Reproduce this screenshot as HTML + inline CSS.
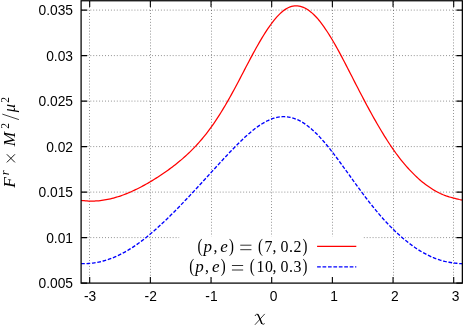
<!DOCTYPE html>
<html><head><meta charset="utf-8"><title>plot</title>
<style>html,body{margin:0;padding:0;background:#fff;}body{width:463px;height:326px;position:relative;overflow:hidden;font-family:"Liberation Sans",sans-serif;}</style>
</head><body>
<svg width="463" height="326" viewBox="0 0 463 326" style="position:absolute;left:0;top:0;will-change:transform;opacity:0.999">
<rect x="0" y="0" width="463" height="326" fill="#fff"/>
<path d="M89.50,1.3 V283.1 M150.50,1.3 V283.1 M211.50,1.3 V283.1 M271.50,1.3 V283.1 M332.50,1.3 V283.1 M393.50,1.3 V283.1 M453.50,1.3 V283.1 M81.55,237.60 H462.35 M81.55,192.10 H462.35 M81.55,146.60 H462.35 M81.55,101.10 H462.35 M81.55,55.60 H462.35 M81.55,10.10 H462.35" fill="none" stroke="#000" stroke-opacity="0.47" stroke-width="1.0" stroke-dasharray="0.9 2.04"/>
<rect x="179.3" y="236.3" width="184" height="41.5" fill="#fff"/>
<path d="M81.10,200.34 L82.57,200.54 L84.04,200.71 L85.52,200.85 L86.99,200.96 L88.46,201.04 L89.93,201.08 L91.40,201.10 L92.88,201.09 L94.35,201.05 L95.82,200.98 L97.29,200.88 L98.76,200.76 L100.24,200.61 L101.71,200.43 L103.18,200.22 L104.65,199.99 L106.12,199.73 L107.60,199.45 L109.07,199.14 L110.54,198.80 L112.01,198.44 L113.48,198.06 L114.96,197.65 L116.43,197.22 L117.90,196.77 L119.37,196.29 L120.84,195.80 L122.32,195.28 L123.79,194.73 L125.26,194.17 L126.73,193.59 L128.20,192.98 L129.68,192.36 L131.15,191.71 L132.62,191.05 L134.09,190.37 L135.56,189.67 L137.04,188.95 L138.51,188.22 L139.98,187.46 L141.45,186.69 L142.92,185.91 L144.40,185.10 L145.87,184.28 L147.34,183.45 L148.81,182.60 L150.28,181.74 L151.76,180.86 L153.23,179.96 L154.70,179.05 L156.17,178.13 L157.64,177.19 L159.12,176.23 L160.59,175.27 L162.06,174.28 L163.53,173.28 L165.00,172.27 L166.48,171.23 L167.95,170.18 L169.42,169.12 L170.89,168.03 L172.36,166.93 L173.84,165.81 L175.31,164.66 L176.78,163.50 L178.25,162.31 L179.72,161.10 L181.20,159.86 L182.67,158.60 L184.14,157.31 L185.61,156.00 L187.08,154.65 L188.56,153.27 L190.03,151.86 L191.50,150.41 L192.97,148.93 L194.44,147.42 L195.92,145.86 L197.39,144.26 L198.86,142.63 L200.33,140.95 L201.80,139.23 L203.28,137.46 L204.75,135.65 L206.22,133.79 L207.69,131.88 L209.16,129.93 L210.64,127.93 L212.11,125.87 L213.58,123.77 L215.05,121.62 L216.52,119.42 L218.00,117.17 L219.47,114.87 L220.94,112.52 L222.41,110.13 L223.88,107.69 L225.36,105.20 L226.83,102.68 L228.30,100.11 L229.77,97.50 L231.24,94.85 L232.72,92.17 L234.19,89.46 L235.66,86.72 L237.13,83.96 L238.60,81.17 L240.08,78.36 L241.55,75.54 L243.02,72.72 L244.49,69.89 L245.96,67.07 L247.44,64.25 L248.91,61.44 L250.38,58.66 L251.85,55.89 L253.32,53.16 L254.80,50.46 L256.27,47.80 L257.74,45.19 L259.21,42.62 L260.68,40.10 L262.16,37.64 L263.63,35.24 L265.10,32.91 L266.57,30.63 L268.04,28.43 L269.52,26.30 L270.99,24.24 L272.46,22.27 L273.93,20.39 L275.41,18.60 L276.88,16.90 L278.35,15.32 L279.82,13.84 L281.29,12.48 L282.77,11.23 L284.24,10.11 L285.71,9.11 L287.18,8.24 L288.65,7.50 L290.13,6.90 L291.60,6.43 L293.07,6.09 L294.54,5.88 L296.01,5.81 L297.49,5.87 L298.96,6.06 L300.43,6.37 L301.90,6.81 L303.37,7.36 L304.85,8.04 L306.32,8.83 L307.79,9.74 L309.26,10.76 L310.73,11.90 L312.21,13.14 L313.68,14.49 L315.15,15.96 L316.62,17.53 L318.09,19.21 L319.57,20.99 L321.04,22.87 L322.51,24.84 L323.98,26.89 L325.45,29.02 L326.93,31.23 L328.40,33.50 L329.87,35.85 L331.34,38.26 L332.81,40.73 L334.29,43.26 L335.76,45.84 L337.23,48.48 L338.70,51.16 L340.17,53.89 L341.65,56.66 L343.12,59.45 L344.59,62.27 L346.06,65.11 L347.53,67.97 L349.01,70.84 L350.48,73.71 L351.95,76.59 L353.42,79.47 L354.89,82.35 L356.37,85.22 L357.84,88.08 L359.31,90.93 L360.78,93.77 L362.25,96.58 L363.73,99.38 L365.20,102.16 L366.67,104.92 L368.14,107.66 L369.61,110.37 L371.09,113.05 L372.56,115.70 L374.03,118.33 L375.50,120.93 L376.97,123.49 L378.45,126.03 L379.92,128.53 L381.39,130.99 L382.86,133.43 L384.33,135.82 L385.81,138.18 L387.28,140.50 L388.75,142.78 L390.22,145.02 L391.69,147.22 L393.17,149.36 L394.64,151.46 L396.11,153.50 L397.58,155.49 L399.05,157.42 L400.53,159.31 L402.00,161.14 L403.47,162.92 L404.94,164.64 L406.41,166.33 L407.89,167.97 L409.36,169.57 L410.83,171.13 L412.30,172.65 L413.77,174.13 L415.25,175.58 L416.72,176.98 L418.19,178.35 L419.66,179.67 L421.13,180.94 L422.61,182.16 L424.08,183.34 L425.55,184.47 L427.02,185.55 L428.49,186.59 L429.97,187.59 L431.44,188.54 L432.91,189.46 L434.38,190.35 L435.85,191.19 L437.33,192.00 L438.80,192.76 L440.27,193.48 L441.74,194.15 L443.21,194.77 L444.69,195.35 L446.16,195.88 L447.63,196.37 L449.10,196.84 L450.57,197.27 L452.05,197.68 L453.52,198.07 L454.99,198.45 L456.46,198.81 L457.93,199.16 L459.41,199.49 L460.88,199.78 L462.35,200.05" fill="none" stroke="#ff0000" stroke-width="1.25" stroke-linejoin="round"/>
<path d="M81.10,263.66 L82.57,263.69 L84.04,263.69 L85.52,263.66 L86.99,263.60 L88.46,263.51 L89.93,263.39 L91.40,263.24 L92.88,263.07 L94.35,262.86 L95.82,262.63 L97.29,262.36 L98.76,262.07 L100.24,261.75 L101.71,261.39 L103.18,261.01 L104.65,260.60 L106.12,260.16 L107.60,259.69 L109.07,259.19 L110.54,258.66 L112.01,258.11 L113.48,257.52 L114.96,256.90 L116.43,256.26 L117.90,255.59 L119.37,254.89 L120.84,254.16 L122.32,253.40 L123.79,252.61 L125.26,251.80 L126.73,250.96 L128.20,250.09 L129.68,249.20 L131.15,248.28 L132.62,247.33 L134.09,246.35 L135.56,245.36 L137.04,244.33 L138.51,243.28 L139.98,242.21 L141.45,241.12 L142.92,240.00 L144.40,238.85 L145.87,237.69 L147.34,236.51 L148.81,235.30 L150.28,234.07 L151.76,232.83 L153.23,231.56 L154.70,230.28 L156.17,228.97 L157.64,227.65 L159.12,226.32 L160.59,224.96 L162.06,223.60 L163.53,222.21 L165.00,220.81 L166.48,219.40 L167.95,217.98 L169.42,216.54 L170.89,215.09 L172.36,213.63 L173.84,212.15 L175.31,210.67 L176.78,209.18 L178.25,207.67 L179.72,206.16 L181.20,204.64 L182.67,203.11 L184.14,201.58 L185.61,200.03 L187.08,198.48 L188.56,196.92 L190.03,195.36 L191.50,193.79 L192.97,192.21 L194.44,190.63 L195.92,189.05 L197.39,187.46 L198.86,185.86 L200.33,184.27 L201.80,182.67 L203.28,181.06 L204.75,179.46 L206.22,177.85 L207.69,176.24 L209.16,174.63 L210.64,173.01 L212.11,171.40 L213.58,169.79 L215.05,168.18 L216.52,166.57 L218.00,164.97 L219.47,163.36 L220.94,161.76 L222.41,160.17 L223.88,158.58 L225.36,157.00 L226.83,155.43 L228.30,153.86 L229.77,152.31 L231.24,150.76 L232.72,149.23 L234.19,147.71 L235.66,146.21 L237.13,144.73 L238.60,143.26 L240.08,141.81 L241.55,140.39 L243.02,138.99 L244.49,137.61 L245.96,136.26 L247.44,134.94 L248.91,133.65 L250.38,132.39 L251.85,131.16 L253.32,129.98 L254.80,128.83 L256.27,127.72 L257.74,126.65 L259.21,125.62 L260.68,124.65 L262.16,123.72 L263.63,122.84 L265.10,122.01 L266.57,121.23 L268.04,120.51 L269.52,119.85 L270.99,119.25 L272.46,118.70 L273.93,118.22 L275.41,117.80 L276.88,117.45 L278.35,117.16 L279.82,116.94 L281.29,116.78 L282.77,116.69 L284.24,116.68 L285.71,116.73 L287.18,116.86 L288.65,117.05 L290.13,117.32 L291.60,117.66 L293.07,118.07 L294.54,118.55 L296.01,119.10 L297.49,119.73 L298.96,120.42 L300.43,121.18 L301.90,122.01 L303.37,122.91 L304.85,123.88 L306.32,124.91 L307.79,126.01 L309.26,127.17 L310.73,128.39 L312.21,129.67 L313.68,131.00 L315.15,132.40 L316.62,133.84 L318.09,135.34 L319.57,136.89 L321.04,138.49 L322.51,140.13 L323.98,141.81 L325.45,143.54 L326.93,145.30 L328.40,147.11 L329.87,148.94 L331.34,150.80 L332.81,152.70 L334.29,154.62 L335.76,156.56 L337.23,158.52 L338.70,160.51 L340.17,162.50 L341.65,164.52 L343.12,166.54 L344.59,168.57 L346.06,170.61 L347.53,172.66 L349.01,174.71 L350.48,176.75 L351.95,178.80 L353.42,180.84 L354.89,182.88 L356.37,184.90 L357.84,186.92 L359.31,188.93 L360.78,190.93 L362.25,192.91 L363.73,194.87 L365.20,196.82 L366.67,198.75 L368.14,200.66 L369.61,202.55 L371.09,204.42 L372.56,206.26 L374.03,208.09 L375.50,209.88 L376.97,211.65 L378.45,213.40 L379.92,215.12 L381.39,216.81 L382.86,218.47 L384.33,220.10 L385.81,221.71 L387.28,223.29 L388.75,224.83 L390.22,226.35 L391.69,227.83 L393.17,229.29 L394.64,230.72 L396.11,232.11 L397.58,233.48 L399.05,234.82 L400.53,236.13 L402.00,237.41 L403.47,238.67 L404.94,239.89 L406.41,241.10 L407.89,242.27 L409.36,243.41 L410.83,244.53 L412.30,245.61 L413.77,246.67 L415.25,247.69 L416.72,248.69 L418.19,249.65 L419.66,250.57 L421.13,251.47 L422.61,252.33 L424.08,253.16 L425.55,253.96 L427.02,254.73 L428.49,255.46 L429.97,256.17 L431.44,256.84 L432.91,257.48 L434.38,258.08 L435.85,258.66 L437.33,259.20 L438.80,259.70 L440.27,260.17 L441.74,260.60 L443.21,261.00 L444.69,261.36 L446.16,261.68 L447.63,261.98 L449.10,262.26 L450.57,262.51 L452.05,262.73 L453.52,262.94 L454.99,263.12 L456.46,263.29 L457.93,263.44 L459.41,263.56 L460.88,263.66 L462.35,263.72" fill="none" stroke="#0000ff" stroke-width="1.35" stroke-dasharray="3.7 1.73" stroke-linejoin="round"/>
<path d="M89.69,283.1 v-6 M89.69,1.0 v6 M150.36,283.1 v-6 M150.36,1.0 v6 M211.03,283.1 v-6 M211.03,1.0 v6 M271.70,283.1 v-6 M271.70,1.0 v6 M332.37,283.1 v-6 M332.37,1.0 v6 M393.04,283.1 v-6 M393.04,1.0 v6 M453.71,283.1 v-6 M453.71,1.0 v6 M81.1,283.10 h6 M462.35,283.10 h-6 M81.1,237.60 h6 M462.35,237.60 h-6 M81.1,192.10 h6 M462.35,192.10 h-6 M81.1,146.60 h6 M462.35,146.60 h-6 M81.1,101.10 h6 M462.35,101.10 h-6 M81.1,55.60 h6 M462.35,55.60 h-6 M81.1,10.10 h6 M462.35,10.10 h-6" fill="none" stroke="#000" stroke-width="1.1"/>
<rect x="81.1" y="0.75" width="381.25" height="282.35" fill="none" stroke="#000" stroke-width="1.25"/>
<g font-family="Liberation Sans, sans-serif" font-size="13.8" fill="#000">
<text x="73.0" y="288.00" text-anchor="end">0.005</text>
<text x="73.0" y="242.50" text-anchor="end">0.01</text>
<text x="73.0" y="197.00" text-anchor="end">0.015</text>
<text x="73.0" y="151.50" text-anchor="end">0.02</text>
<text x="73.0" y="106.00" text-anchor="end">0.025</text>
<text x="73.0" y="60.50" text-anchor="end">0.03</text>
<text x="73.0" y="15.00" text-anchor="end">0.035</text>
<text x="90.09" y="301.0" text-anchor="middle">-3</text>
<text x="150.76" y="301.0" text-anchor="middle">-2</text>
<text x="211.43" y="301.0" text-anchor="middle">-1</text>
<text x="273.50" y="301.0" text-anchor="middle">0</text>
<text x="334.17" y="301.0" text-anchor="middle">1</text>
<text x="394.84" y="301.0" text-anchor="middle">2</text>
<text x="455.51" y="301.0" text-anchor="middle">3</text>
</g>
<path d="M317.1,246.3 H356.3" stroke="#ff0000" stroke-width="1.25"/>
<path d="M317.1,266.8 H356.3" stroke="#0000ff" stroke-width="1.35" stroke-dasharray="3.7 1.73"/>
<text transform="translate(199.95,251.60) scale(0.8,1)" x="0" y="0" font-family="Liberation Serif, serif" font-size="18.5" text-anchor="middle" fill="#000">(</text>
<text x="207.80" y="251.90" font-family="Liberation Serif, serif" font-size="17.0" font-style="italic" text-anchor="middle" fill="#000" >p</text>
<text x="215.40" y="251.90" font-family="Liberation Serif, serif" font-size="15.9" text-anchor="middle" fill="#000" >,</text>
<text x="224.05" y="251.90" font-family="Liberation Serif, serif" font-size="17.0" font-style="italic" text-anchor="middle" fill="#000" >e</text>
<text transform="translate(231.50,251.60) scale(0.8,1)" x="0" y="0" font-family="Liberation Serif, serif" font-size="18.5" text-anchor="middle" fill="#000">)</text>
<path d="M240.25,245.20 h11.2 M240.25,249.70 h11.2" stroke="#000" stroke-width="0.8" fill="none"/>
<text transform="translate(260.50,251.60) scale(0.8,1)" x="0" y="0" font-family="Liberation Serif, serif" font-size="18.5" text-anchor="middle" fill="#000">(</text>
<text x="268.50" y="251.90" font-family="Liberation Serif, serif" font-size="15.9" text-anchor="middle" fill="#000" >7</text>
<text x="274.60" y="251.90" font-family="Liberation Serif, serif" font-size="15.9" text-anchor="middle" fill="#000" >,</text>
<text x="284.60" y="251.90" font-family="Liberation Serif, serif" font-size="15.9" text-anchor="middle" fill="#000" >0</text>
<text x="290.90" y="251.90" font-family="Liberation Serif, serif" font-size="15.9" text-anchor="middle" fill="#000" >.</text>
<text x="297.50" y="251.90" font-family="Liberation Serif, serif" font-size="15.9" text-anchor="middle" fill="#000" >2</text>
<text transform="translate(304.90,251.60) scale(0.8,1)" x="0" y="0" font-family="Liberation Serif, serif" font-size="18.5" text-anchor="middle" fill="#000">)</text>
<text transform="translate(191.65,271.90) scale(0.8,1)" x="0" y="0" font-family="Liberation Serif, serif" font-size="18.5" text-anchor="middle" fill="#000">(</text>
<text x="199.50" y="272.20" font-family="Liberation Serif, serif" font-size="17.0" font-style="italic" text-anchor="middle" fill="#000" >p</text>
<text x="207.10" y="272.20" font-family="Liberation Serif, serif" font-size="15.9" text-anchor="middle" fill="#000" >,</text>
<text x="215.75" y="272.20" font-family="Liberation Serif, serif" font-size="17.0" font-style="italic" text-anchor="middle" fill="#000" >e</text>
<text transform="translate(223.20,271.90) scale(0.8,1)" x="0" y="0" font-family="Liberation Serif, serif" font-size="18.5" text-anchor="middle" fill="#000">)</text>
<path d="M231.95,265.50 h11.2 M231.95,270.00 h11.2" stroke="#000" stroke-width="0.8" fill="none"/>
<text transform="translate(252.10,271.90) scale(0.8,1)" x="0" y="0" font-family="Liberation Serif, serif" font-size="18.5" text-anchor="middle" fill="#000">(</text>
<text x="260.50" y="272.20" font-family="Liberation Serif, serif" font-size="15.9" text-anchor="middle" fill="#000" >1</text>
<text x="268.95" y="272.20" font-family="Liberation Serif, serif" font-size="15.9" text-anchor="middle" fill="#000" >0</text>
<text x="274.60" y="272.20" font-family="Liberation Serif, serif" font-size="15.9" text-anchor="middle" fill="#000" >,</text>
<text x="284.60" y="272.20" font-family="Liberation Serif, serif" font-size="15.9" text-anchor="middle" fill="#000" >0</text>
<text x="290.90" y="272.20" font-family="Liberation Serif, serif" font-size="15.9" text-anchor="middle" fill="#000" >.</text>
<text x="297.50" y="272.20" font-family="Liberation Serif, serif" font-size="15.9" text-anchor="middle" fill="#000" >3</text>
<text transform="translate(304.90,271.90) scale(0.8,1)" x="0" y="0" font-family="Liberation Serif, serif" font-size="18.5" text-anchor="middle" fill="#000">)</text>
<g fill="none" stroke="#000" stroke-linecap="round"><path d="M264.5,314.2 L255.2,324.5" stroke-width="0.75"/><path d="M255.2,315.6 C255.5,314.3 256.9,313.7 257.9,314.6" stroke-width="0.8"/><path d="M257.9,314.6 C259.3,316.4 260.6,321.2 261.7,323.3" stroke-width="1.45"/><path d="M261.7,323.3 C262.3,324.5 263.5,324.7 264.4,323.8" stroke-width="0.8"/></g>
<g transform="translate(15.1,188.5) rotate(-90)"><text x="5.95" y="0.00" font-family="Liberation Serif, serif" font-size="17.3" font-style="italic" text-anchor="middle" fill="#000">F</text><text x="15.60" y="-6.40" font-family="Liberation Serif, serif" font-size="12.5" font-style="italic" text-anchor="middle" fill="#000">r</text><path d="M26.1,-8.25 l8.1,8.1 M26.1,-0.15 l8.1,-8.1" stroke="#000" stroke-width="0.9" fill="none"/><text x="49.40" y="0.00" font-family="Liberation Serif, serif" font-size="17.3" font-style="italic" text-anchor="middle" fill="#000">M</text><text x="62.75" y="-6.40" font-family="Liberation Serif, serif" font-size="11.5" text-anchor="middle" fill="#000">2</text><path d="M68.9,3.8 L74.4,-12.8" stroke="#000" stroke-width="0.75" fill="none"/><text x="80.55" y="0.00" font-family="Liberation Serif, serif" font-size="16.6" font-style="italic" text-anchor="middle" fill="#000">μ</text><text x="88.60" y="-6.40" font-family="Liberation Serif, serif" font-size="11.5" text-anchor="middle" fill="#000">2</text></g>
</svg>
</body></html>
